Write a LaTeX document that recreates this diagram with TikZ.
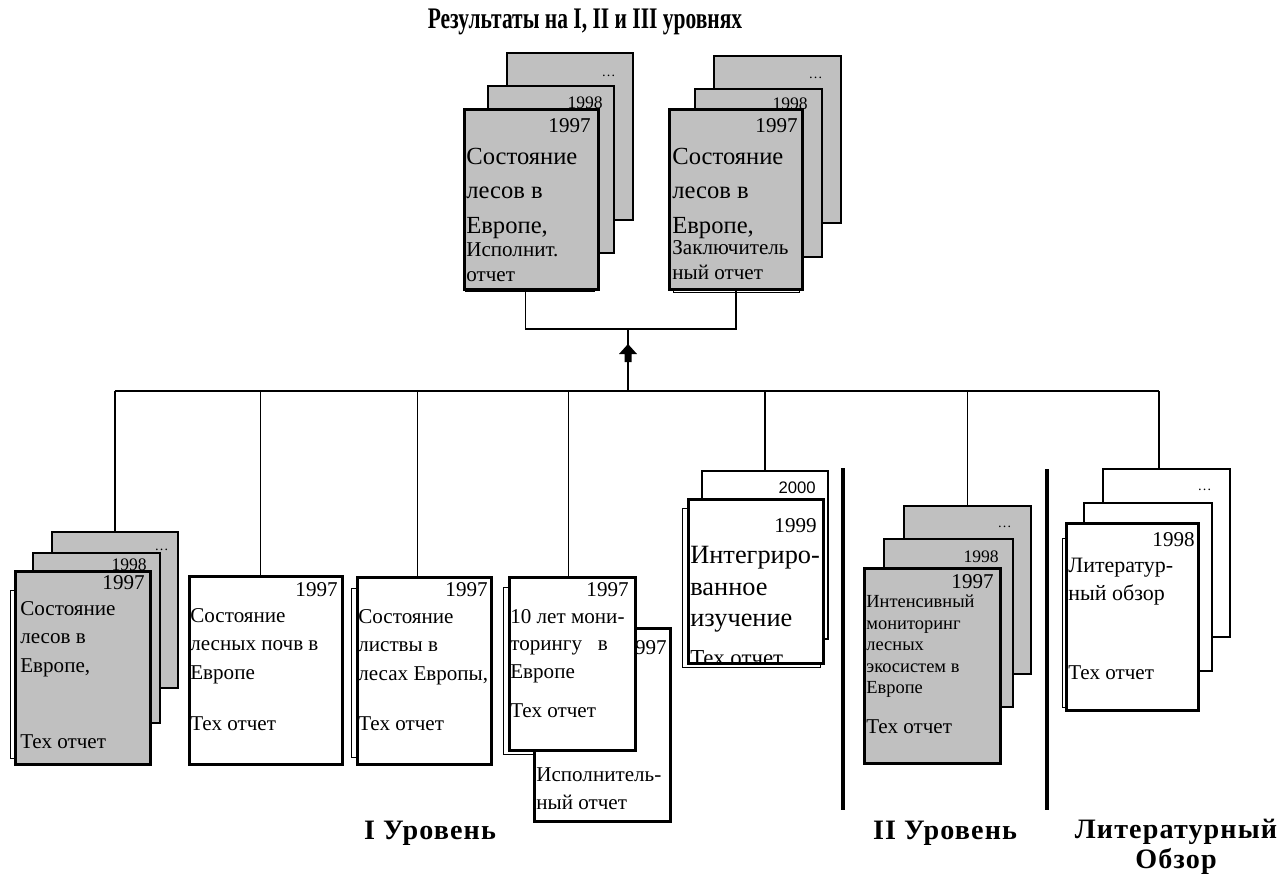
\documentclass[tikz,border=0pt]{standalone}
\usepackage{fontspec}
\setmainfont{Liberation Serif}
\newfontfamily\titlefont{Liberation Serif}[FakeStretch=0.72]
\newfontfamily\levelfont{Liberation Serif}[LetterSpace=4]
\newfontfamily\yearsans{Liberation Sans}

\definecolor{sheetgray}{RGB}{192,192,192}

\tikzset{
  sheet/.style={draw=black,line width=1.1pt,fill=white,rectangle,anchor=north west,inner sep=0pt},
  graysheet/.style={sheet,fill=sheetgray},
  frontsheet/.style={line width=1.8pt},
  sheetedge/.style={draw=black,line width=0.75pt,fill=white,rectangle,anchor=north west,inner sep=0pt},
  pxsize/.style 2 args={minimum width=#1*0.02cm,minimum height=#2*0.02cm},
  year/.style={anchor=east,inner sep=0pt,font=\fontsize{12}{14}\selectfont},
  yearsmall/.style={anchor=east,inner sep=0pt,font=\fontsize{10}{12}\selectfont},
  dots/.style={anchor=east,inner sep=0pt,font=\fontsize{8}{10}\selectfont},
  doctext/.style={anchor=north west,inner sep=0pt,align=left,font=\fontsize{12}{16}\selectfont},
  conn/.style={draw=black,line width=1pt},
  separator/.style={draw=black,line width=2.2pt},
  level/.style={font=\levelfont\bfseries\fontsize{16}{17}\selectfont,align=center,inner sep=0pt}
}

\begin{document}
\begin{tikzpicture}[x=0.02cm,y=-0.02cm]

\useasboundingbox (0,0) rectangle (1282,877);

%% - Title
%% - --------------------------------------
\node[font=\titlefont\bfseries\fontsize{17}{20}\selectfont] (title) at (585,22) {Результаты на I, II и III уровнях};

%% - Results I, II, III: Executive report
%% - --------------------------------------
\node[graysheet,pxsize={126}{167}] (tlC) at (506,52) {};
\node[dots] (tlCd) at (616,76) {\ldots};
\node[graysheet,pxsize={126}{167}] (tlB) at (487,85) {};
\node[yearsmall] (tlBy) at (603,103) {1998};
\node[sheetedge,pxsize={129}{177}] (tlE) at (465,114) {};
\node[graysheet,frontsheet,pxsize={134}{180}] (tlA) at (463,108) {};
\node[year] (tlAy) at (591,126) {1997};
\node[doctext,font=\fontsize{14}{19.5}\selectfont] (tlAt) at (466,148) {Состояние\\лесов в\\Европе,};
\node[doctext,font=\fontsize{12}{14.2}\selectfont] (tlAs) at (466,242.5) {Исполнит.\\отчет};

%% - Results I, II, III: Final report
%% - --------------------------------------
\node[graysheet,pxsize={127}{167}] (trC) at (713,55) {};
\node[dots] (trCd) at (823,78) {\ldots};
\node[graysheet,pxsize={127}{168}] (trB) at (694,88) {};
\node[yearsmall] (trBy) at (808,104) {1998};
\node[sheetedge,pxsize={126}{177}] (trE) at (673,115) {};
\node[graysheet,frontsheet,pxsize={133}{180}] (trA) at (668,108) {};
\node[year] (trAy) at (798,126) {1997};
\node[doctext,font=\fontsize{14}{19.5}\selectfont] (trAt) at (672,148) {Состояние\\лесов в\\Европе,};
\node[doctext,font=\fontsize{12}{14.2}\selectfont] (trAs) at (672,240.5) {Заключитель\\ный отчет};

%% - Connect results and arrow
%% - --------------------------------------
\coordinate (topbus) at (628,329);
\coordinate (lowbus) at (628,391);
\coordinate (arrowtip) at (628,344);
\draw[conn] ([xshift=-0.12cm]tlA.south) |- (topbus) -| (trA.south);
\draw[conn] (lowbus) -- (topbus);
\fill[black] (arrowtip) -- ++(9,10) -- ++(-5.5,0) -- ++(0,8) -- ++(-7,0) -- ++(0,-8) -- ++(-5.5,0) -- cycle;

%% - Level I: forest condition, tech report
%% - --------------------------------------
\node[graysheet,pxsize={126}{156}] (blC) at (51,531) {};
\node[dots] (blCd) at (169,550) {\ldots};
\node[graysheet,pxsize={127}{170}] (blB) at (32,552) {};
\node[yearsmall] (blBy) at (147,565) {1998};
\node[sheetedge,pxsize={135}{168}] (blE) at (10,590) {};
\node[graysheet,frontsheet,pxsize={135}{193}] (blA) at (14,570) {};
\node[year] (blAy) at (145,583) {1997};
\node[doctext] (blAt) at (20,601.5) {Состояние\\лесов в\\Европе,};
\node[doctext] (blAs) at (20,734.5) {Тех отчет};

%% - Level I: forest soils
%% - --------------------------------------
\node[sheet,frontsheet,pxsize={153}{188}] (d2) at (188,575) {};
\node[year] (d2y) at (338,590) {1997};
\node[doctext] (d2t) at (190,608.5) {Состояние\\лесных почв в\\Европе};
\node[doctext] (d2s) at (190,716.5) {Тех отчет};

%% - Level I: foliage
%% - --------------------------------------
\node[sheetedge,pxsize={120}{169}] (d3E) at (351,588) {};
\node[sheet,frontsheet,pxsize={134}{187}] (d3) at (356,576) {};
\node[year] (d3y) at (488,590) {1997};
\node[doctext] (d3t) at (358,609.5) {Состояние\\листвы в\\лесах Европы,};
\node[doctext] (d3s) at (358,716.5) {Тех отчет};

%% - Level I: 10 years of monitoring
%% - --------------------------------------
\node[sheetedge,pxsize={110}{167}] (d4E) at (503,587) {};
\node[sheet,frontsheet,pxsize={136}{193}] (d5) at (533,627) {};
\node[year] (d5y) at (667,648) {1997};
\node[doctext] (d5t) at (536,767.5) {Исполнитель-\\ный отчет};
\node[sheet,frontsheet,pxsize={126}{173}] (d4) at (508,576) {};
\node[year] (d4y) at (629,590) {1997};
\node[doctext,font=\fontsize{12}{15.4}\selectfont] (d4t) at (510,609.5) {10 лет мони-\\торингу \ \ в\\Европе};
\node[doctext] (d4s) at (510,703.5) {Тех отчет};

%% - Integrated study
%% - --------------------------------------
\node[sheet,pxsize={126}{168}] (igB) at (701,470) {};
\node[anchor=east,inner sep=0pt,font=\yearsans\fontsize{9.5}{11}\selectfont] (igBy) at (816,488) {2000};
\node[sheetedge,pxsize={138}{159}] (igE) at (682,508) {};
\node[sheet,frontsheet,pxsize={135}{164}] (igA) at (687,498) {};
\node[year] (igAy) at (817,526) {1999};
\node[doctext,font=\fontsize{15}{18}\selectfont] (igAt) at (690,546) {Интегриро-\\ванное\\изучение};
\begin{scope}
\clip ([shift={(1,1)}]igA.north west) rectangle ([shift={(-1,-1.6)}]igA.south east);
\node[doctext,font=\fontsize{13}{15}\selectfont] (igAs) at (690,650) {Тех отчет};
\end{scope}

%% - Level II: intensive monitoring
%% - --------------------------------------
\node[graysheet,pxsize={127}{168}] (imC) at (903,505) {};
\node[dots] (imCd) at (1012,527) {\ldots};
\node[graysheet,pxsize={129}{168}] (imB) at (883,538) {};
\node[yearsmall] (imBy) at (999,557) {1998};
\node[graysheet,frontsheet,pxsize={136}{195}] (imA) at (863,567) {};
\node[year] (imAy) at (994,582) {1997};
\node[doctext,font=\fontsize{10.5}{12.3}\selectfont] (imAt) at (866,594.5) {Интенсивный\\мониторинг\\лесных\\экосистем в\\Европе};
\node[doctext] (imAs) at (866,719) {Тех отчет};

%% - Literature review
%% - --------------------------------------
\node[sheet,pxsize={127}{168}] (ltC) at (1102,468) {};
\node[dots] (ltCd) at (1212,490) {\ldots};
\node[sheet,pxsize={128}{168}] (ltB) at (1083,502) {};
\node[sheetedge,pxsize={128}{169}] (ltE) at (1062,538) {};
\node[sheet,frontsheet,pxsize={132}{187}] (ltA) at (1065,522) {};
\node[year] (ltAy) at (1195,540) {1998};
\node[doctext,font=\fontsize{12.5}{16}\selectfont] (ltAt) at (1068,557.5) {Литератур-\\ный обзор};
\node[doctext] (ltAs) at (1068,665) {Тех отчет};

%% - Lower bus to all reports
%% - --------------------------------------
\draw[conn] (blC.north |- lowbus) -- ([xshift=-0.15cm]ltC.north |- lowbus);
\draw[conn] (blC.north) -- (blC.north |- lowbus);
\draw[conn] ([xshift=-0.11cm]d2.north) -- ([xshift=-0.11cm]d2.north |- lowbus);
\draw[conn] ([xshift=-0.14cm]d3.north) -- ([xshift=-0.14cm]d3.north |- lowbus);
\draw[conn] ([xshift=-0.08cm]d4.north) -- ([xshift=-0.08cm]d4.north |- lowbus);
\draw[conn] (igB.north) -- (igB.north |- lowbus);
\draw[conn] (imC.north) -- (imC.north |- lowbus);
\draw[conn] ([xshift=-0.15cm]ltC.north) -- ([xshift=-0.15cm]ltC.north |- lowbus);

%% - Separators
%% - --------------------------------------
\draw[separator] (843,468) -- (843,810);
\draw[separator] (1047,469) -- (1047,810);

%% - Level labels
%% - --------------------------------------
\node[level] (lvlI) at (430,833) {I Уровень};
\node[level] (lvlII) at (945,833) {II Уровень};
\node[level] (lvlLit) at (1176,847) {Литературный\\Обзор};

\end{tikzpicture}
\end{document}
